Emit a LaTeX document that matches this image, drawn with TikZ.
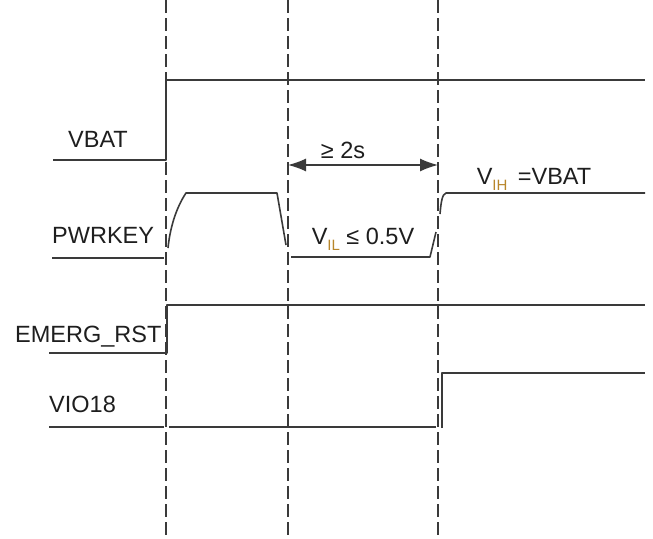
\documentclass[tikz,border=0pt]{standalone}
\usepackage{fontspec}
\setmainfont{Liberation Sans}
\usetikzlibrary{arrows.meta}
\definecolor{sig}{HTML}{3A3A3A}
\definecolor{txt}{HTML}{1E1E1E}
\definecolor{subc}{HTML}{B8862B}
\begin{document}
\begin{tikzpicture}[x=1pt,y=-1pt,
  sigline/.style={draw=sig,line width=1.6pt,line join=round},
  guide/.style={draw=sig,line width=1.1pt,dash pattern=on 13pt off 5pt},
  lbl/.style={text=txt,font=\fontsize{23.5}{26}\selectfont,inner sep=0pt,anchor=base west},
  ann/.style={text=txt,font=\fontsize{23.5}{26}\selectfont,inner sep=0pt},
  span/.style={draw=sig,line width=1.4pt,{Latex[length=18pt,width=13pt]}-{Latex[length=18pt,width=13pt]}}]
\useasboundingbox (0,0) rectangle (653,538);
% guides
\foreach \n/\x in {ga/166,gb/288,gc/438}{
  \coordinate (\n top) at (\x,0);
  \coordinate (\n bot) at (\x,538);
  \draw[guide] (\n top) -- (\n bot);
}
% labels
\node[lbl] (vbat) at (68,147) {VBAT};
\node[lbl] (pwrkey) at (52,243) {PWRKEY};
\node[lbl] (emerg) at (15,342) {EMERG\_RST};
\node[lbl] (vio) at (49,412) {VIO18};
% VBAT
\draw[sigline] (53,160) -- (166,160) -- (166,80) -- (645,80);
% PWRKEY
\draw[sigline] (52,258) -- (164,258);
\draw[sigline] (168,248) .. controls (170,228) and (176,208) .. (186,193) -- (277,193) -- (286,245);
\draw[sigline] (291,257) -- (430,257) -- (436,232);
\draw[sigline] (440,214) .. controls (441,203) and (442,194) .. (446,193) -- (645,193);
% EMERG_RST
\draw[sigline] (49,353) -- (167,353) -- (167,305) -- (645,305);
% VIO18
\draw[sigline] (49,427) -- (164,427);
\draw[sigline] (169,427) -- (436,427);
\draw[sigline] (442,428) -- (442,373) -- (645,373);
% span arrow
\coordinate (sa) at (288,165);
\coordinate (sb) at (438,165);
\draw[span] (sa) -- (sb);
\node[ann] (t2s) at (343,150) {≥ 2s};
\node[ann] (vil) at (363,239) {V\textcolor{subc}{\raisebox{-0.25em}{\fontsize{15}{16}\selectfont IL}} ≤ 0.5V};
\node[ann] (vih) at (534,179) {V\textcolor{subc}{\raisebox{-0.25em}{\fontsize{15}{16}\selectfont IH}}\ \,=VBAT};
\end{tikzpicture}
\end{document}
